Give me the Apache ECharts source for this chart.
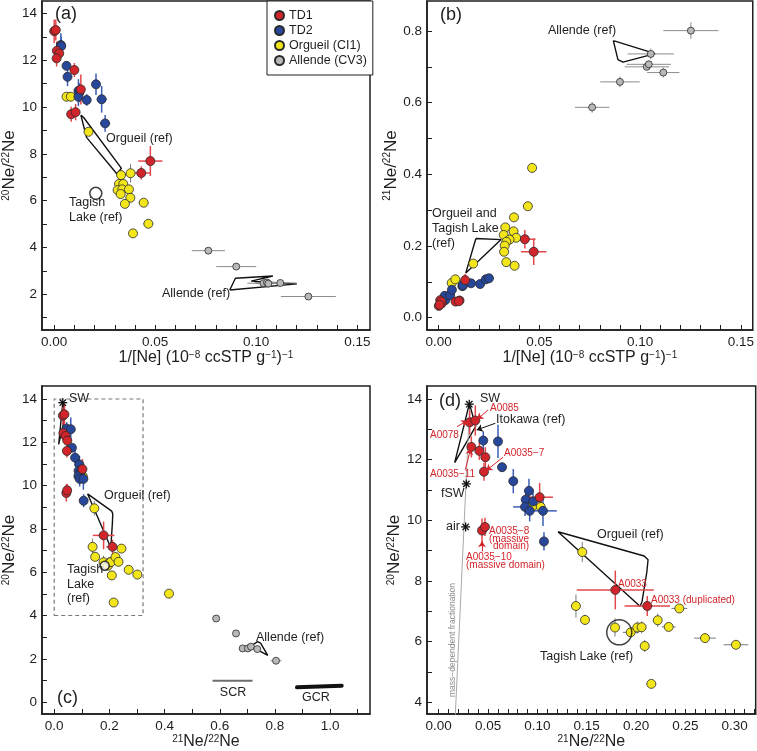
<!DOCTYPE html>
<html><head><meta charset="utf-8">
<script src="https://cdn.jsdelivr.net/npm/echarts@6/dist/echarts.min.js"></script>
<style>html,body{margin:0;padding:0;background:#fff}#c{width:757px;height:751px}</style>
</head><body><div id="c"></div>
<script>
// ---------------- data ----------------
// panel (a): [1/[Ne], 20Ne/22Ne, err x, err y]
const TD1_A = [[0.0000,13.24,0,0.5],[0.0008,13.29,0,0.45],[0.0013,12.40,0,0.4],[0.0025,12.29,0,0.3],[0.0012,12.08,0,0.35],
  [0.0100,11.58,0,0.3],[0.0132,10.75,0.001,0.64],[0.0084,9.69,0,0.32],[0.0106,9.78,0,0.35],[0.0431,7.18,0.0045,0.28],[0.0476,7.69,0.006,0.64]];
const TD2_A = [[0.0033,12.65,0,0.5],[0.0035,12.60,0,0.4],[0.0061,11.76,0,0.18],[0.0066,11.29,0,0.4],[0.0120,10.69,0,0.5],
  [0.0125,10.62,0,0.4],[0.0120,10.44,0,0.4],[0.0161,10.30,0.002,0.25],[0.0207,10.97,0,0.46],[0.0235,10.33,0.0025,0.57],[0.0252,9.30,0.0025,0.36]];
const ORG_A = [[0.0061,10.44,0.001,0.2],[0.0082,10.44,0.001,0.2],[0.0170,8.94,0,0.15],[0.0331,7.09,0,0.2],[0.0378,7.17,0,0.4],
  [0.0321,6.71,0,0.2],[0.0342,6.71,0,0.2],[0.0314,6.45,0,0.15],[0.0337,6.48,0,0.2],[0.0370,6.48,0,0.15],[0.0329,6.28,0,0.15],
  [0.0377,6.12,0,0.2],[0.0350,5.86,0,0.15],[0.0443,5.91,0.0025,0.1],[0.0466,5.01,0.0025,0.1],[0.0390,4.60,0.001,0.1]];
const ALL_A = [[0.0763,3.86,0.0082,0],[0.0901,3.18,0.0099,0],[0.1036,2.47,0.008,0],[0.1053,2.50,0.006,0],[0.1060,2.45,0.006,0],
  [0.1119,2.48,0.008,0],[0.1258,1.90,0.0136,0]];
// panel (b): [1/[Ne], 21Ne/22Ne, err x, err y]
const TD1_B = [[0.0001,0.033,0,0.004],[0.0008,0.049,0,0.004],[0.0016,0.040,0,0.004],[0.0013,0.045,0,0.004],[0.0005,0.036,0,0],
  [0.0084,0.045,0,0],[0.0104,0.048,0,0],[0.0100,0.046,0,0],[0.0132,0.105,0,0.018],[0.0428,0.219,0.0053,0.026],[0.0472,0.184,0.0063,0.037]];
const TD2_B = [[0.0033,0.049,0,0],[0.0030,0.061,0,0],[0.0057,0.063,0,0],[0.0066,0.078,0,0],[0.0118,0.088,0,0],[0.0123,0.093,0,0],
  [0.0120,0.090,0,0],[0.0161,0.096,0.0015,0],[0.0206,0.094,0,0],[0.0234,0.107,0.0023,0.004],[0.0250,0.110,0.0023,0]];
const ORG_B = [[0.0065,0.097,0,0],[0.0083,0.107,0,0],[0.0172,0.151,0,0],[0.0331,0.252,0,0],[0.0372,0.241,0,0],[0.0323,0.231,0,0],
  [0.0385,0.223,0,0],[0.0352,0.218,0,0],[0.0336,0.212,0,0],[0.0328,0.201,0,0],[0.0325,0.184,0,0],[0.0336,0.155,0,0],
  [0.0377,0.145,0,0],[0.0374,0.280,0,0],[0.0443,0.311,0.0015,0.008],[0.0464,0.418,0.0015,0.008]];
const ALL_B = [[0.0762,0.587,0.0086,0.015],[0.0900,0.658,0.0098,0.015],[0.1033,0.700,0.011,0.01],[0.1043,0.707,0.011,0.01],
  [0.1053,0.736,0.0115,0.015],[0.1115,0.684,0.008,0.014],[0.1252,0.801,0.0137,0.023]];
// panels (c),(d): [21Ne/22Ne, 20Ne/22Ne, err x, err y]
const TD1_CD = [[0.0314,13.23,0.002,0.4],[0.0371,13.29,0.002,0.5],[0.0331,12.42,0.002,0.35],[0.0412,12.29,0.002,0.3],
  [0.0473,12.08,0.002,0.33],[0.0459,11.60,0.002,0.3],[0.1023,10.76,0.0135,0.47],[0.0439,9.66,0.002,0.4],[0.0469,9.78,0.002,0.3],
  [0.1790,7.70,0.039,0.64],[0.2114,7.17,0.023,0.33]];
const TD2_CD = [[0.0452,12.63,0.003,0.3],[0.0601,12.60,0.003,0.55],[0.0642,11.75,0.003,0.15],[0.0756,11.29,0.003,0.4],
  [0.0915,10.97,0.005,0.4],[0.0882,10.68,0.004,0.3],[0.0956,10.62,0.006,0.3],[0.0875,10.44,0.012,0.3],[0.0922,10.31,0.005,0.35],
  [0.1057,10.31,0.014,0.5],[0.1067,9.30,0.003,0.3]];
const ORG_CD = [[0.0949,10.46,0.003,0.2],[0.1034,10.44,0.003,0.2],[0.1455,8.95,0.002,0.33],[0.1391,7.17,0.002,0.38],
  [0.1483,6.71,0.002,0.17],[0.1787,6.46,0.002,0.3],[0.1946,6.30,0.008,0.1],[0.2013,6.46,0.003,0.2],[0.2057,6.47,0.003,0.2],
  [0.2220,6.70,0.003,0.22],[0.2331,6.48,0.007,0.1],[0.2439,7.09,0.008,0.1],[0.2088,5.85,0.002,0.2],[0.2699,6.11,0.011,0.15],
  [0.3013,5.89,0.0125,0.1],[0.2155,4.60,0.005,0.1],[0.4160,5.01,0.005,0.1]];
const ALL_CD = [[0.587,3.86,0.01,0],[0.659,3.17,0.01,0],[0.683,2.48,0.012,0],[0.702,2.48,0.012,0],[0.713,2.56,0.01,0],
  [0.736,2.45,0.01,0],[0.804,1.91,0.02,0]];
// reference fields
const ORG_POLY_A = [[0.0132,9.66],[0.0160,8.70],[0.0310,7.15],[0.0333,7.38],[0.0146,9.55],[0.0132,9.66]];
const ALL_POLY_A = [[0.0869,2.18],[0.0897,2.68],[0.1082,2.78],[0.0975,2.56],[0.1201,2.44],[0.0869,2.18]];
const TAGISH_A = [[0.0206,6.31]];
const ORGTL_POLY_B = [[0.0185,0.221],[0.0310,0.218],[0.0135,0.125],[0.0185,0.221]];
const ALL_POLY_B = [[0.0867,0.773],[0.0890,0.720],[0.0915,0.713],[0.1075,0.737],[0.0867,0.773]];
const ORG_POLY_CD = [[0.1209,9.62],[0.2083,8.82],[0.2122,8.70],[0.2110,8.30],[0.2060,7.30],[0.2040,7.16],[0.1209,9.62]];
const ITO_POLY_CD = [[0.0311,13.85],[0.0375,13.10],[0.0162,11.90],[0.0311,13.85]];
const ALL_POLY_C = [[0.712,2.58],[0.737,2.79],[0.748,2.72],[0.774,2.16],[0.712,2.58]];
const TAGISH_CD = [[0.183,6.30]];
const STARS_CD = [[0.031,13.83],[0.028,11.20],[0.0273,9.78]]; // SW, fSW, air
const SCR_LINE = [[0.574,0.99],[0.719,0.99]];
const GCR_LINE = [[0.880,0.68],[1.042,0.75]];
const BOX_D = [[0,4],[0.322,4],[0.322,14],[0,14],[0,4]];
const MDF_LINE = [[0.0168,3.55],[0.0314,13.83]];
const ARROWS_RED_D = [[0.0186,13.09,0.0290,13.28],[0.0500,13.64,0.0391,13.33],[0.0652,12.08,0.0482,11.64],
  [0.0270,11.67,0.0324,12.36],[0.0439,8.97,0.0439,9.31]];
const ARROWS_BLACK_D = [[0.0574,13.20,0.0385,12.98]];
// tick labels
const A_X_LABELS = [0, 0.05, 0.10, 0.15];
const A_Y_LABELS = [2, 4, 6, 8, 10, 12, 14];
const B_Y_LABELS = [0, 0.2, 0.4, 0.6, 0.8];
const C_X_LABELS = [0, 0.2, 0.4, 0.6, 0.8, 1.0];
const C_Y_LABELS = [0, 2, 4, 6, 8, 10, 12, 14];
const D_X_LABELS = [0, 0.05, 0.10, 0.15, 0.20, 0.25, 0.30];
const D_Y_LABELS = [4, 6, 8, 10, 12, 14];
const LEGEND_NAMES = ['TD1', 'TD2', 'Orgueil (CI1)', 'Allende (CV3)'];

// ---------------- styling ----------------
const FONT = "'Liberation Sans', Arial, Helvetica, sans-serif";
const INK = '#1e1e1e';
const RED = '#d2252b', BLUE = '#27479b', YEL = '#f2e61b', GRY = '#b8b8b8';
const RED_E = '#e2474c', BLUE_E = '#3b5db7', YEL_E = '#7a7a7a', GRY_E = '#8c8c8c';
function steps(a, b, s) { const o = []; const n = Math.round((b - a) / s); for (let i = 0; i <= n; i++) o.push(+(a + i * s).toFixed(6)); return o; }

const grids = [
  {left: 41, top: 1, width: 329, height: 329},
  {left: 427, top: 1, width: 328.7, height: 329},
  {left: 41, top: 386, width: 329, height: 329.3},
  {left: 427, top: 386, width: 328.7, height: 329.3}
].map(g => Object.assign({show: true, borderColor: INK, borderWidth: 1.5, containLabel: false}, g));

const richName = {sup: {fontSize: 10, verticalAlign: 'top', color: INK, fontFamily: FONT}};
function axis(gi, min, max, ticks, labels, dec, name, gap, isY) {
  return {
    type: 'value', gridIndex: gi, min, max,
    axisLine: {show: true, onZero: false, lineStyle: {color: INK, width: 1.5}},
    axisTick: {show: true, inside: true, length: 5, customValues: ticks, lineStyle: {color: INK, width: 1}},
    axisLabel: {customValues: labels, formatter: v => (+v).toFixed(dec), fontSize: 13.5, color: INK, fontFamily: FONT, margin: 5},
    splitLine: {show: false}, minorTick: {show: false},
    name, nameLocation: 'middle', nameGap: gap,
    nameTextStyle: {fontSize: isY ? 17 : 16, color: INK, fontFamily: FONT, rich: richName}
  };
}
const XN_INV = '1/[Ne] (10{sup|−8} ccSTP g{sup|−1}){sup|−1}';
const YN_20 = '{sup|20}Ne/{sup|22}Ne';
const YN_21 = '{sup|21}Ne/{sup|22}Ne';

const xAxes = [
  axis(0, -0.00607, 0.1563, steps(0, 0.15, 0.01), A_X_LABELS, 2, XN_INV, 17, false),
  axis(1, -0.00576, 0.1559, steps(0, 0.15, 0.01), A_X_LABELS, 2, XN_INV, 17, false),
  axis(2, -0.0446, 1.1446, steps(0, 1.1, 0.1), C_X_LABELS, 1, YN_21, 20, false),
  axis(3, -0.01186, 0.3213, steps(0, 0.32, 0.01), D_X_LABELS, 2, YN_21, 20, false)
];
const yAxes = [
  axis(0, 0.47, 14.53, steps(1, 14, 1), A_Y_LABELS, 0, YN_20, 20, true),
  axis(1, -0.0343, 0.8837, steps(0, 0.8, 0.1), B_Y_LABELS, 1, YN_21, 25, true),
  axis(2, -0.55, 14.6, steps(0, 14, 1), C_Y_LABELS, 0, YN_20, 20, true),
  axis(3, 3.606, 14.43, steps(4, 14, 1), D_Y_LABELS, 0, YN_20, 21, true)
];

function errRender(color, w) {
  return function (params, api) {
    const x = api.value(0), y = api.value(1), ex = api.value(2), ey = api.value(3);
    const ch = [];
    if (ex > 0) { const a = api.coord([x - ex, y]), b = api.coord([x + ex, y]);
      ch.push({type: 'line', shape: {x1: a[0], y1: a[1], x2: b[0], y2: b[1]}, style: {stroke: color, lineWidth: w}}); }
    if (ey > 0) { const a = api.coord([x, y - ey]), b = api.coord([x, y + ey]);
      ch.push({type: 'line', shape: {x1: a[0], y1: a[1], x2: b[0], y2: b[1]}, style: {stroke: color, lineWidth: w}}); }
    return {type: 'group', children: ch};
  };
}
function starRender(params, api) {
  const c = api.coord([api.value(0), api.value(1)]);
  const r = 4.5, ch = [];
  [0, 45, 90, 135].forEach(deg => { const t = deg * Math.PI / 180, dx = r * Math.cos(t), dy = r * Math.sin(t);
    ch.push({type: 'line', shape: {x1: c[0] - dx, y1: c[1] - dy, x2: c[0] + dx, y2: c[1] + dy}, style: {stroke: '#111', lineWidth: 1.3}}); });
  return {type: 'group', children: ch};
}

const groups = [
  {name: 'Allende (CV3)', color: GRY, err: GRY_E, ew: 1, size: 7, data: [ALL_A, ALL_B, ALL_CD, ALL_CD]},
  {name: 'Orgueil (CI1)', color: YEL, err: YEL_E, ew: 1, size: 9, data: [ORG_A, ORG_B, ORG_CD, ORG_CD]},
  {name: 'TD2', color: BLUE, err: BLUE_E, ew: 1.5, size: 9, data: [TD2_A, TD2_B, TD2_CD, TD2_CD]},
  {name: 'TD1', color: RED, err: RED_E, ew: 1.5, size: 9, data: [TD1_A, TD1_B, TD1_CD, TD1_CD]}
];

const series = [];
function poly(p, data, opt) {
  series.push(Object.assign({type: 'line', xAxisIndex: p, yAxisIndex: p, data, symbol: 'none', silent: true, clip: true, z: 2,
    lineStyle: {color: '#111', width: 1.4}}, opt || {}));
}
poly(0, ORG_POLY_A); poly(0, ALL_POLY_A);
poly(1, ORGTL_POLY_B); poly(1, ALL_POLY_B);
poly(2, ORG_POLY_CD); poly(2, ITO_POLY_CD); poly(2, ALL_POLY_C);
poly(2, BOX_D, {lineStyle: {color: '#777', width: 1.2, type: [4, 3]}});
poly(2, SCR_LINE, {lineStyle: {color: '#6e6e6e', width: 2}});
poly(2, GCR_LINE, {lineStyle: {color: '#111', width: 4, cap: 'round'}});
poly(3, ORG_POLY_CD); poly(3, ITO_POLY_CD);
poly(3, MDF_LINE, {lineStyle: {color: '#a8a8a8', width: 1}});

for (let p = 0; p < 4; p++) {
  groups.forEach(g => {
    series.push({type: 'custom', name: g.name + ' err', xAxisIndex: p, yAxisIndex: p, data: g.data[p], encode: {x: 0, y: 1},
      renderItem: errRender(g.err, g.ew), clip: true, silent: true, z: 3});
  });
  groups.forEach(g => {
    series.push({type: 'scatter', name: g.name, xAxisIndex: p, yAxisIndex: p, data: g.data[p].map(r => [r[0], r[1]]),
      symbol: 'circle', symbolSize: g.size, clip: true, z: 4,
      itemStyle: {color: g.color, borderColor: '#2a2a2a', borderWidth: 0.8, opacity: 1}});
  });
}
// Tagish Lake reference circles
series.push({type: 'scatter', xAxisIndex: 0, yAxisIndex: 0, data: TAGISH_A, symbolSize: 12, z: 5, silent: true,
  itemStyle: {color: 'rgba(255,255,255,0)', borderColor: '#111', borderWidth: 1.5}});
series.push({type: 'scatter', xAxisIndex: 2, yAxisIndex: 2, data: TAGISH_CD, symbolSize: 9, z: 5, silent: true,
  itemStyle: {color: '#fff', borderColor: '#111', borderWidth: 1.5}});
series.push({type: 'scatter', xAxisIndex: 3, yAxisIndex: 3, data: TAGISH_CD, symbolSize: 25, z: 5, silent: true,
  itemStyle: {color: 'rgba(255,255,255,0)', borderColor: '#111', borderWidth: 1.5}});
// SW / fSW / air
[2, 3].forEach(p => series.push({type: 'custom', xAxisIndex: p, yAxisIndex: p, data: p === 2 ? STARS_CD.slice(0, 1) : STARS_CD,
  encode: {x: 0, y: 1}, renderItem: starRender, z: 6, silent: true}));
// arrows in (d)
function arrows(list, color) {
  series.push({type: 'line', xAxisIndex: 3, yAxisIndex: 3, data: [], silent: true,
    markLine: {silent: true, symbol: ['none', 'arrow'], symbolSize: 6, label: {show: false}, animation: false,
      lineStyle: {color, width: 1, type: 'solid'},
      data: list.map(a => [{coord: [a[0], a[1]]}, {coord: [a[2], a[3]]}])}});
}
arrows(ARROWS_RED_D, RED); arrows(ARROWS_BLACK_D, '#111');

// annotation texts
function T(x, y, text, size, color, align) {
  return {type: 'text', x, y, silent: true, z: 100,
    style: {text, font: size + 'px ' + FONT, fill: color || INK, align: align || 'left', verticalAlign: 'middle'}};
}
const texts = [
  T(55, 14, '(a)', 18), T(106, 139, 'Orgueil (ref)', 12.5), T(69, 203, 'Tagish', 12.5), T(69, 218, 'Lake (ref)', 12.5),
  T(162, 294, 'Allende (ref)', 12.5),
  T(440, 15, '(b)', 18), T(548, 31, 'Allende (ref)', 12.5), T(432, 214, 'Orgueil and', 12.5), T(432, 229, 'Tagish Lake', 12.5),
  T(432, 244, '(ref)', 12.5),
  T(69, 399, 'SW', 12.5), T(104, 496, 'Orgueil (ref)', 12.5), T(67, 570, 'Tagish', 12.5), T(67, 585, 'Lake', 12.5),
  T(67, 599, '(ref)', 12.5), T(256, 638, 'Allende (ref)', 12.5), T(57, 698, '(c)', 18),
  T(233, 693, 'SCR', 12.5, '#222', 'center'), T(316, 698, 'GCR', 12.5, '#222', 'center'),
  T(439, 401, '(d)', 18), T(480, 399, 'SW', 12.5), T(490, 408, 'A0085', 10, RED), T(496, 420, 'Itokawa (ref)', 12.5),
  T(430, 435, 'A0078', 10, RED), T(504, 453, 'A0035−7', 10, RED), T(430, 474, 'A0035−11', 10, RED),
  T(441, 494, 'fSW', 12.5), T(446, 527, 'air', 12.5),
  T(489, 531, 'A0035−8', 10, RED), T(489, 539, '(massive', 10, RED), T(493, 546, 'domain)', 10, RED),
  T(466, 557, 'A0035−10', 10, RED), T(466, 565, '(massive domain)', 10, RED),
  T(597, 535, 'Orgueil (ref)', 12.5), T(618, 584, 'A0033', 10, RED), T(651, 600, 'A0033 (duplicated)', 10, RED),
  T(540, 657, 'Tagish Lake (ref)', 12.5),
  {type: 'text', x: 453, y: 640, rotation: Math.PI / 2, silent: true, z: 100,
    style: {text: 'mass−dependent fractionation', font: '8.5px ' + FONT, fill: '#8a8a8a', align: 'center', verticalAlign: 'middle'}}
];

const chart = echarts.init(document.getElementById('c'), null, {renderer: 'canvas'});
chart.setOption({
  animation: false,
  backgroundColor: '#fff',
  textStyle: {fontFamily: FONT},
  grid: grids, xAxis: xAxes, yAxis: yAxes,
  legend: {data: LEGEND_NAMES, left: 267, top: 1, orient: 'vertical', padding: [8, 6, 8, 7], itemGap: 2,
    itemWidth: 9, itemHeight: 9, icon: 'circle', borderColor: INK, borderWidth: 1, backgroundColor: '#fff',
    selectedMode: false, textStyle: {fontSize: 12.5, color: INK, fontFamily: FONT}},
  series,
  graphic: {elements: texts}
});
</script></body></html>
